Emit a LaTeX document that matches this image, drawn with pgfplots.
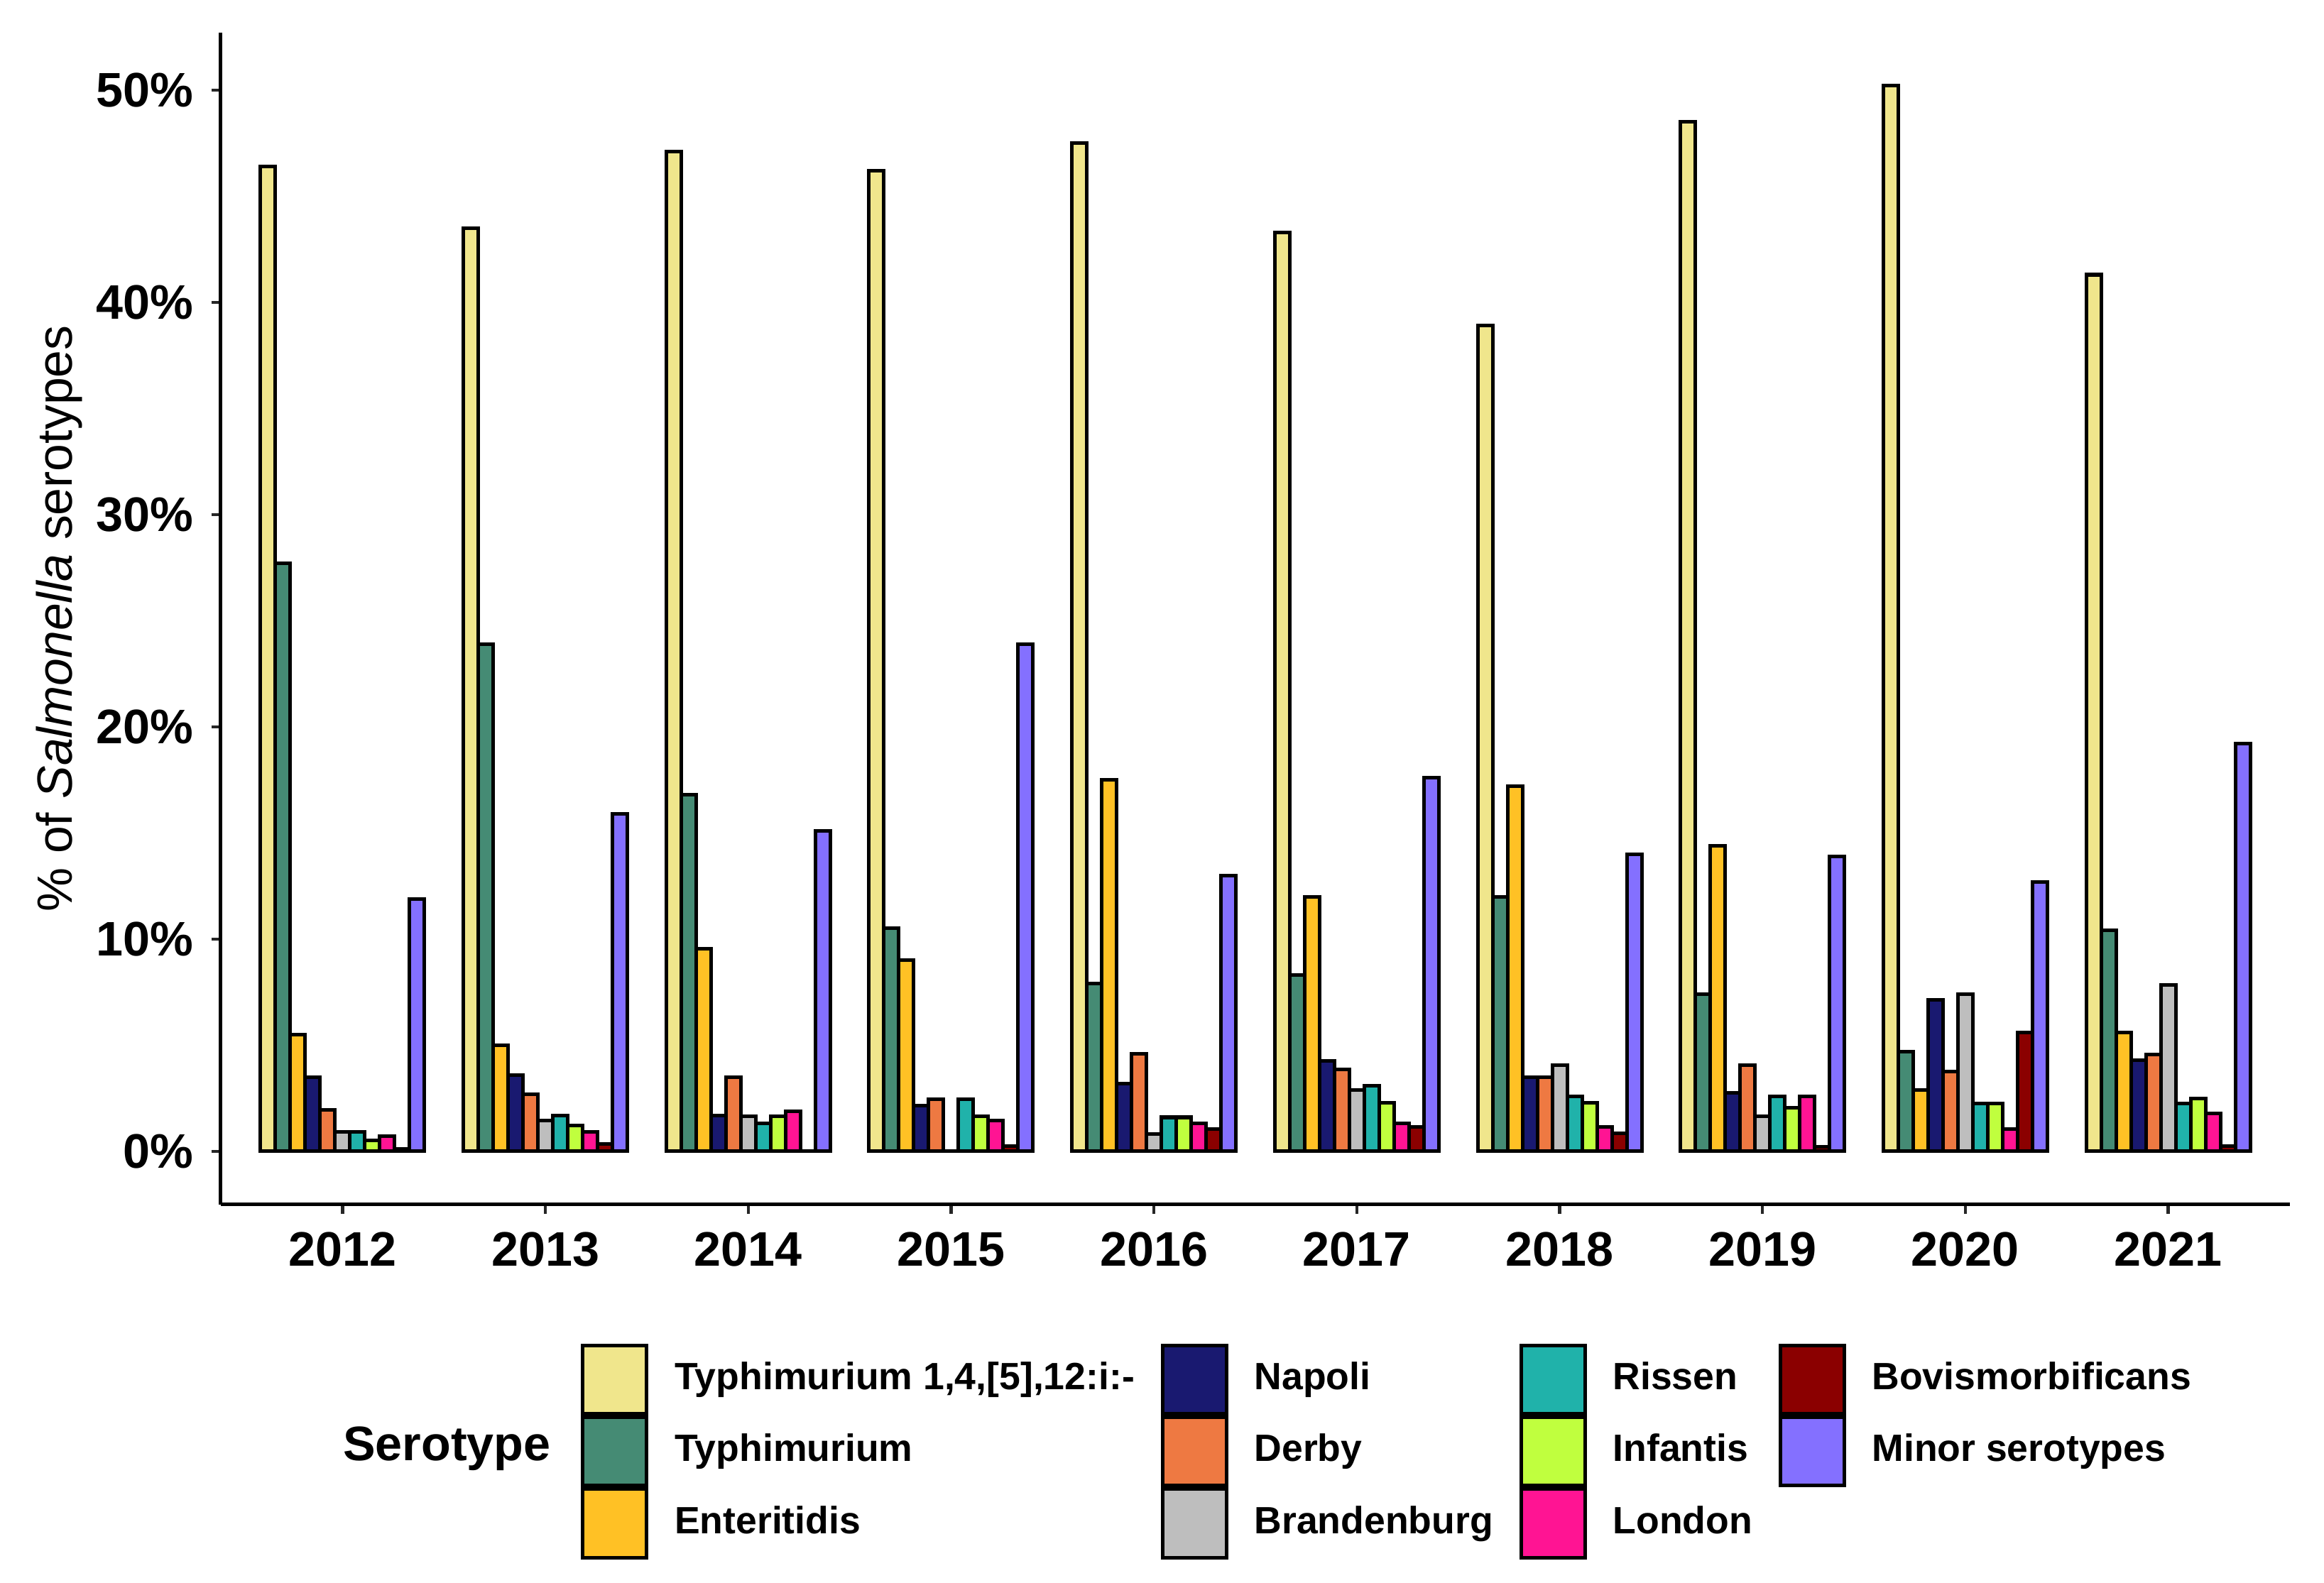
\documentclass[border=0pt]{standalone}
\usepackage{pgfplots}
\pgfplotsset{compat=1.18}
\usepackage{fontspec}
\setmainfont{Liberation Sans}
\definecolor{cTa}{HTML}{F0E68C}
\definecolor{cTb}{HTML}{458B74}
\definecolor{cEn}{HTML}{FFC125}
\definecolor{cNa}{HTML}{191970}
\definecolor{cDe}{HTML}{EE7942}
\definecolor{cBr}{HTML}{BEBEBE}
\definecolor{cRi}{HTML}{20B2AA}
\definecolor{cIn}{HTML}{C0FF3E}
\definecolor{cLo}{HTML}{FF1493}
\definecolor{cBo}{HTML}{8B0000}
\definecolor{cMi}{HTML}{8470FF}
\begin{document}
\begin{tikzpicture}
\path[use as bounding box] (0,0) rectangle (16cm,10.9013cm);
\begin{axis}[
  at={(1.520cm,2.606cm)}, anchor=south west,
  scale only axis, width=14.245cm, height=8.071cm,
  xmin=-0.6, xmax=9.6, ymin=-2.51, ymax=52.71,
  axis lines*=left,
  axis line style={line width=0.7pt, black},
  ybar=0pt, bar width=0.0735,
  xtick={0,1,2,3,4,5,6,7,8,9},
  xticklabels={2012,2013,2014,2015,2016,2017,2018,2019,2020,2021},
  ytick={0,10,20,30,40,50},
  yticklabels={0\%,10\%,20\%,30\%,40\%,50\%},
  tick align=outside, major tick length=0.065cm,
  tick style={line width=0.6pt, black!85},
  ticklabel style={font=\bfseries\fontsize{9.5}{11}\selectfont},
  ylabel={\% of \textit{Salmonella} serotypes},
  ylabel style={at={(axis description cs:-0.0779,0.5)}, anchor=center, font=\fontsize{9.7}{11}\selectfont},
  legend columns=3, transpose legend,
  legend image code/.code={\draw[#1, line width=0.7pt] (0cm,-0.235cm) rectangle (0.44cm,0.235cm);},
  legend style={at={(axis description cs:0.1741,-0.1188)}, anchor=north west, draw=none, fill=none,
    inner sep=0pt, outer sep=0pt, column sep=0.18cm, row sep=0pt,
    font=\bfseries\fontsize{7.45}{8}\selectfont, nodes={inner sep=0pt}, cells={anchor=west}},
  every axis plot/.append style={draw=black, line width=0.7pt},
]
\addplot[fill=cTa] coordinates {(0,46.4) (1,43.5) (2,47.1) (3,46.2) (4,47.5) (5,43.3) (6,38.9) (7,48.5) (8,50.2) (9,41.3)};
\addplot[fill=cTb] coordinates {(0,27.7) (1,23.9) (2,16.8) (3,10.5) (4,7.9) (5,8.3) (6,12.0) (7,7.4) (8,4.7) (9,10.4)};
\addplot[fill=cEn] coordinates {(0,5.5) (1,5.0) (2,9.55) (3,9.0) (4,17.5) (5,12.0) (6,17.2) (7,14.4) (8,2.9) (9,5.6)};
\addplot[fill=cNa] coordinates {(0,3.5) (1,3.6) (2,1.7) (3,2.15) (4,3.2) (5,4.25) (6,3.5) (7,2.75) (8,7.15) (9,4.3)};
\addplot[fill=cDe] coordinates {(0,1.95) (1,2.7) (2,3.5) (3,2.45) (4,4.6) (5,3.85) (6,3.5) (7,4.05) (8,3.75) (9,4.55)};
\addplot[fill=cBr] coordinates {(0,0.9) (1,1.45) (2,1.65) (3,0) (4,0.8) (5,2.9) (6,4.05) (7,1.65) (8,7.4) (9,7.85)};
\addplot[fill=cRi] coordinates {(0,0.9) (1,1.7) (2,1.3) (3,2.45) (4,1.6) (5,3.1) (6,2.6) (7,2.6) (8,2.25) (9,2.25)};
\addplot[fill=cIn] coordinates {(0,0.5) (1,1.2) (2,1.65) (3,1.65) (4,1.6) (5,2.3) (6,2.3) (7,2.05) (8,2.25) (9,2.5)};
\addplot[fill=cLo] coordinates {(0,0.7) (1,0.9) (2,1.9) (3,1.45) (4,1.3) (5,1.3) (6,1.15) (7,2.6) (8,1.05) (9,1.8)};
\addplot[fill=cBo] coordinates {(0,0.12) (1,0.35) (2,0) (3,0.25) (4,1.05) (5,1.15) (6,0.85) (7,0.2) (8,5.6) (9,0.25)};
\addplot[fill=cMi] coordinates {(0,11.9) (1,15.9) (2,15.1) (3,23.9) (4,13.0) (5,17.6) (6,14.0) (7,13.9) (8,12.7) (9,19.2)};
\legend{{Typhimurium 1,4,[5],12:i:-},Typhimurium,Enteritidis,Napoli,Derby,Brandenburg,Rissen,Infantis,London,Bovismorbificans,Minor serotypes}
\end{axis}
\node[anchor=west, font=\bfseries\fontsize{9.5}{11}\selectfont, inner sep=0pt] at (2.356cm,0.924cm) {Serotype};
\end{tikzpicture}
\end{document}
